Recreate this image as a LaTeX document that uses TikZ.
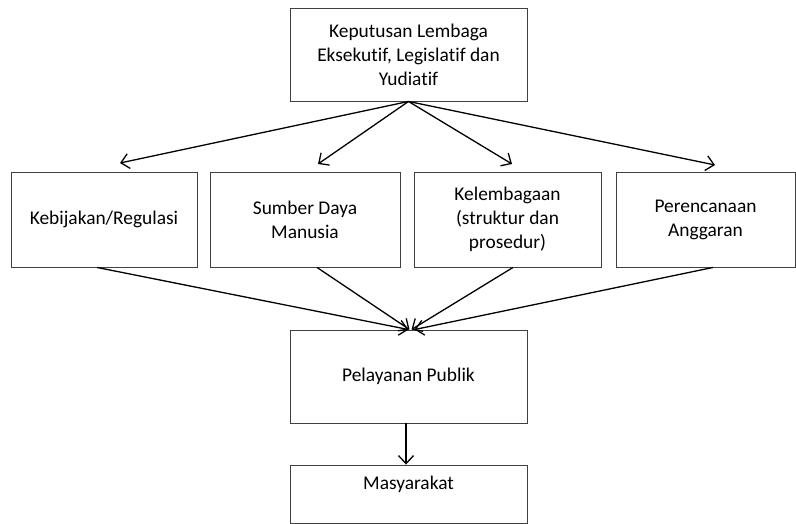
\documentclass[tikz,border=0pt]{standalone}
\usepackage{fontspec}
\setmainfont{Carlito}[Ligatures=NoCommon]
\usetikzlibrary{positioning,arrows.meta}

\begin{document}
\begin{tikzpicture}[x=1pt,y=-1pt,line width=1.3pt,
    >={Straight Barb[length=8pt,width=15pt]},
    boxnode/.style={draw=black!75,line width=0.9pt,align=center,inner sep=0pt,
      font=\fontsize{19.4}{24}\selectfont}]
    \useasboundingbox (0,0) rectangle (796,524);

    \node[boxnode,minimum width=237,minimum height=93] (kep) at (408.5,54.5)
      {Keputusan Lembaga\\Eksekutif, Legislatif dan\\Yudiatif};

    \node[boxnode,minimum width=186,minimum height=95] (kebijakan) at (104,219.5) {Kebijakan/Regulasi};
    \node[boxnode,minimum width=190,minimum height=95] (sdm) at (305,219.5) {Sumber Daya\\Manusia};
    \node[boxnode,minimum width=187,minimum height=95] (lembaga) at (507.5,219.5) {Kelembagaan\\(struktur dan\\prosedur)};
    \node[boxnode,minimum width=179,minimum height=95] (anggaran) at (705.5,219.5) {Perencanaan\\Anggaran};

    \node[boxnode,minimum width=237,minimum height=93] (publik) at (408.5,376.5) {Pelayanan Publik};
    \node[boxnode,minimum width=237,minimum height=58,text depth=23pt] (masy) at (408.5,494) {Masyarakat};

    \coordinate (t1) at (120,163);
    \coordinate (t2) at (318,164);
    \coordinate (t3) at (512,164);
    \coordinate (t4) at (715,165);

    \path[->]
      (kep.south) edge (t1)
      (kep.south) edge (t2)
      (kep.south) edge (t3)
      (kep.south) edge (t4)
      ([xshift=-7pt]kebijakan.south) edge (publik.north)
      ([xshift=12pt]sdm.south) edge ([xshift=1pt]publik.north)
      ([xshift=5.5pt]lembaga.south) edge ([xshift=3pt]publik.north)
      ([xshift=7.5pt]anggaran.south) edge ([xshift=6pt]publik.north)
      ([xshift=-2.5pt]publik.south) edge ([xshift=-2.5pt]masy.north);
\end{tikzpicture}
\end{document}
